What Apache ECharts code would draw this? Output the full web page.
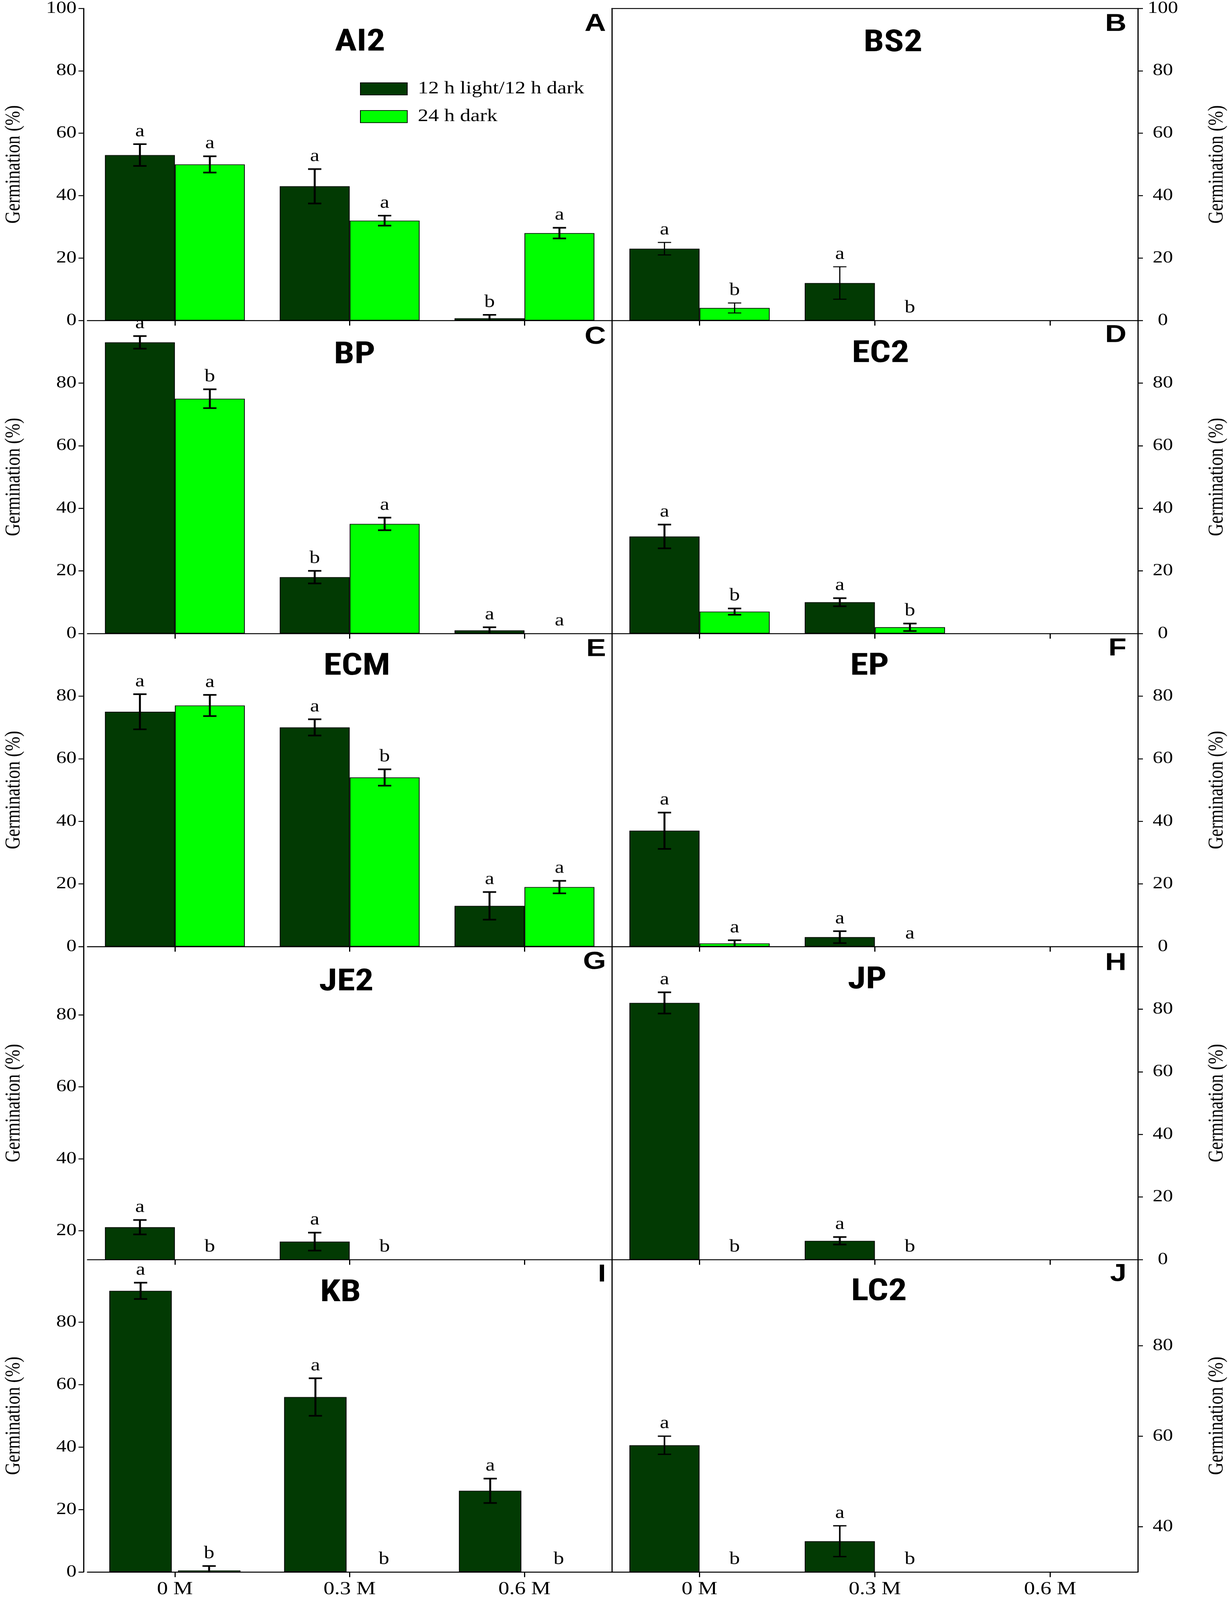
<!DOCTYPE html>
<html><head><meta charset="utf-8">
<script src="https://cdn.jsdelivr.net/npm/echarts@6/dist/echarts.min.js"></script>
<style>html,body{margin:0;padding:0;background:#fff;overflow:hidden}
#wrap{width:3150px;height:100vh;overflow:hidden;position:relative}
#c{width:3150px;height:4968px;transform-origin:0 0;position:absolute;left:0;top:0}</style>
</head><body><div id="wrap"><div id="c"></div></div>
<script>
// ---------------- data ----------------
const categories = ['0 M', '0.3 M', '0.6 M'];
const seriesNames = ['12 h light/12 h dark', '24 h dark'];
const panelNames = ['AI2', 'BS2', 'BP', 'EC2', 'ECM', 'EP', 'JE2', 'JP', 'KB', 'LC2'];
const panelLetters = ['A', 'B', 'C', 'D', 'E', 'F', 'G', 'H', 'I', 'J'];

// 12 h light/12 h dark  (mean, error, letter)
const darkMean = [[53, 43, 0.7], [23, 12, null], [93, 18, 1], [31, 10, null], [75, 70, 13],
                  [37, 3, null], [21, 17, null], [82, 6, null], [90, 56, 26], [58, 36.8, null]];
const darkErr  = [[3.5, 5.5, 1.1], [2, 5.2, null], [2, 2, 1], [3.8, 1.3, null], [5.6, 2.6, 4.4],
                  [5.8, 1.9, null], [2, 2.5, null], [3.4, 1.2, null], [2.6, 6, 3.9], [2, 3.4, null]];
const darkLetter = [['a','a','b'], ['a','a',''], ['a','b','a'], ['a','a',''], ['a','a','a'],
                    ['a','a',''], ['a','a',''], ['a','a',''], ['a','a','a'], ['a','a','']];
// 24 h dark
const lightMean = [[50, 32, 28], [4, 0, null], [75, 35, 0], [7, 2, null], [77, 54, 19],
                   [1, 0, null], [0, 0, null], [0, 0, null], [0.5, 0, 0], [0, 0, null]];
const lightErr  = [[2.6, 1.6, 1.7], [1.6, 0, null], [3, 2, 0], [1, 1.2, null], [3.4, 2.6, 2],
                   [1, 0, null], [0, 0, null], [0, 0, null], [1.4, 0, 0], [0, 0, null]];
const lightLetter = [['a','a','a'], ['b','b',''], ['b','a','a'], ['b','b',''], ['a','b','a'],
                     ['a','a',''], ['b','b',''], ['b','b',''], ['b','b','b'], ['b','b','']];

// y axes
const yMin = [0, 0, 0, 0, 0, 0, 12, 0, 0, 30];
const yMax = [100, 100, 100, 100, 100, 100, 99, 100, 100, 99];
const yTickLabels = [[0,20,40,60,80,100], [0,20,40,60,80,100], [0,20,40,60,80], [0,20,40,60,80],
                     [0,20,40,60,80], [0,20,40,60,80], [20,40,60,80], [0,20,40,60,80],
                     [0,20,40,60,80], [40,60,80]];
const yName = 'Germination (%)';

// ---------------- layout / style ----------------
const colLeft = [224, 1567], colWidth = [1343, 1347];
const yOffset = [10, 0];
const rowTop = [25, 995, 1967, 2939, 3911], rowH = [970, 972, 972, 972, 970];
const titleX = [922, 2287, 908, 2255, 914, 2227, 887, 2221, 872, 2251];
const titleDy = [108, 110, 109, 105, 104, 104, 112, 106, 105, 102];
const letterDy = [50, 50, 51, 46, 49, 47, 48, 52, 47, 45];
const ebWidth = [5, 3, 5, 5, 5, 5, 5, 5, 5, 4];
const darkColor = '#023a03', lightColor = '#00ff00';
const SERIF = "'Liberation Serif','Times New Roman',serif";
const SANS = "'Liberation Sans','Arial',sans-serif";
const NARROW = "'Roboto Condensed','Liberation Sans',sans-serif";

// fit the 3150x4968 figure into the actual window height
const H = window.innerHeight || 4968;
const sy = Math.min(1, H / 4968);
document.getElementById('c').style.transform = 'scale(1,' + sy + ')';

const grids = [], xAxes = [], yAxes = [], series = [], graphics = [];
const lineOnly = {show: true, lineStyle: {color: '#000', width: 3}};

for (let p = 0; p < 10; p++) {
  const row = Math.floor(p / 2), col = p % 2;
  const isI = (p === 8);
  grids.push({left: colLeft[col], top: rowTop[row], width: colWidth[col], height: rowH[row], show: false});
  xAxes.push({
    type: 'category', gridIndex: p, data: categories, boundaryGap: true, position: 'bottom',
    axisLine: lineOnly,
    axisTick: {show: true, alignWithLabel: true, inside: false, length: 16, lineStyle: {color: '#000', width: 3}},
    axisLabel: {show: row === 4, margin: 26, color: '#000', fontFamily: SERIF, fontSize: 56},
    splitLine: {show: false}
  });
  yAxes.push({
    type: 'value', gridIndex: p, position: col === 0 ? 'left' : 'right', offset: yOffset[col],
    min: yMin[p], max: yMax[p],
    name: yName, nameLocation: 'middle', nameRotate: 90,
    nameGap: col === 0 ? 151 : 176,
    nameTextStyle: {color: '#000', fontFamily: SERIF, fontSize: 54},
    axisLine: lineOnly,
    axisTick: {show: true, inside: false, length: 13, customValues: yTickLabels[p], lineStyle: {color: '#000', width: 3}},
    axisLabel: {show: true, customValues: yTickLabels[p], margin: col === 0 ? 18 : 64,
                align: col === 0 ? 'right' : 'center',
                color: '#000', fontFamily: SERIF, fontSize: 52},
    splitLine: {show: false}
  });

  const clampBar = (arr) => arr.map(v => (v == null ? null : (v <= yMin[p] ? null : v)));
  series.push({
    type: 'bar', name: seriesNames[0], xAxisIndex: p, yAxisIndex: p,
    data: clampBar(darkMean[p]), clip: true,
    barGap: isI ? '10%' : '0%', barCategoryGap: isI ? '25%' : '20%',
    itemStyle: {color: darkColor, borderColor: '#000', borderWidth: 2},
    emphasis: {disabled: true}, z: 2
  });
  series.push({
    type: 'bar', name: seriesNames[1], xAxisIndex: p, yAxisIndex: p,
    data: clampBar(lightMean[p]), clip: true,
    barGap: isI ? '10%' : '0%', barCategoryGap: isI ? '25%' : '20%',
    itemStyle: {color: lightColor, borderColor: '#000', borderWidth: 2},
    emphasis: {disabled: true}, z: 2
  });

  // error bars + significance letters
  const ebData = [], ebLetters = [];
  for (let s = 0; s < 2; s++) {
    const M = s === 0 ? darkMean[p] : lightMean[p];
    const E = s === 0 ? darkErr[p] : lightErr[p];
    const L = s === 0 ? darkLetter[p] : lightLetter[p];
    for (let c = 0; c < 3; c++) {
      if (M[c] == null) continue;
      ebData.push([c, M[c], E[c] || 0, s === 0 ? -1 : 1]);
      ebLetters.push(L[c]);
    }
  }
  const lo = yMin[p], hi = yMax[p], lw = ebWidth[p];
  const frac = isI ? 0.196 : 0.2;
  series.push({
    type: 'custom', name: 'eb' + p, xAxisIndex: p, yAxisIndex: p, data: ebData, clip: false, z: 5,
    silent: true,
    renderItem: function (params, api) {
      const c = api.value(0), v = api.value(1), e = api.value(2), side = api.value(3);
      const band = api.size([1, 0])[0];
      const x = api.coord([c, lo])[0] + side * frac * band;
      const top = Math.min(Math.max(v + e, lo), hi);
      const bot = Math.min(Math.max(v - e, lo), hi);
      const yT = api.coord([c, top])[1];
      const yB = api.coord([c, bot])[1];
      const children = [];
      const cap = 17;
      const st = {stroke: '#000', lineWidth: lw};
      if (e > 0) {
        children.push({type: 'line', shape: {x1: x, y1: yT, x2: x, y2: yB}, style: st});
        children.push({type: 'line', shape: {x1: x - cap, y1: yT, x2: x + cap, y2: yT}, style: st});
        if (v - e > lo) children.push({type: 'line', shape: {x1: x - cap, y1: yB, x2: x + cap, y2: yB}, style: st});
      }
      const letter = ebLetters[params.dataIndex];
      if (letter) {
        children.push({type: 'text', style: {text: letter, x: x, y: yT - 12, align: 'center',
          verticalAlign: 'bottom', fill: '#000', font: '54px ' + SERIF}});
      }
      return {type: 'group', children: children};
    }
  });

  // panel title and panel letter
  graphics.push({type: 'text', z: 10, style: {text: panelNames[p], x: titleX[p], y: rowTop[row] + titleDy[p],
    align: 'center', verticalAlign: 'middle', fill: '#000', font: 'bold 94px ' + NARROW}});
  graphics.push({type: 'text', z: 10, style: {text: panelLetters[p],
    x: col === 0 ? 1552 : 2885, y: rowTop[row] + letterDy[p],
    align: 'right', verticalAlign: 'middle', fill: '#000', font: 'bold 76px ' + SANS}});
}

// frame lines: top edge of the first row and the column divider (line-only axes)
for (let p = 0; p < 10; p++) {
  const row = Math.floor(p / 2), col = p % 2;
  if (row === 0) {
    xAxes.push({type: 'category', gridIndex: p, data: categories, position: 'top',
      axisLine: lineOnly, axisTick: {show: false}, axisLabel: {show: false}, splitLine: {show: false}});
  }
  if (col === 0) {
    yAxes.push({type: 'value', gridIndex: p, position: 'right', min: 0, max: 1,
      axisLine: lineOnly, axisTick: {show: false}, axisLabel: {show: false}, splitLine: {show: false}});
  }
}

const chart = echarts.init(document.getElementById('c'), null, {renderer: 'canvas', width: 3150, height: 4968});
chart.setOption({
  animation: false,
  backgroundColor: '#fff',
  grid: grids, xAxis: xAxes, yAxis: yAxes, series: series,
  legend: {
    data: seriesNames, orient: 'vertical', left: 917, top: 244, itemWidth: 120, itemHeight: 38, itemGap: 32,
    icon: 'rect', selectedMode: false,
    textStyle: {color: '#000', fontFamily: SERIF, fontSize: 54, padding: [0, 0, 0, 22]}
  },
  graphic: graphics
});
</script></body></html>
